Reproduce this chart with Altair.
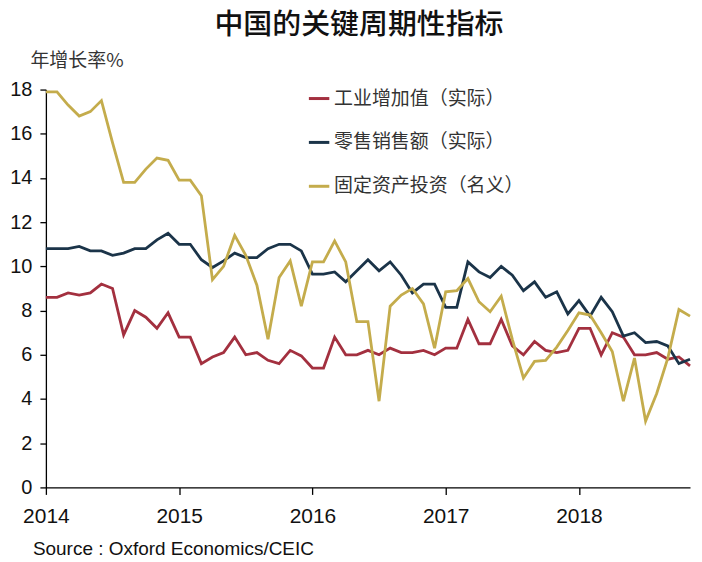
import altair as alt
import pandas as pd

title_text = "中国的关键周期性指标"
y_title = "年增长率%"
source_text = "Source : Oxford Economics/CEIC"
series_names = ["工业增加值（实际）", "零售销售额（实际）", "固定资产投资（名义）"]
series_colors = ["#A3303F", "#1B3449", "#C4AC4C"]
year_ticks = [2014, 2015, 2016, 2017, 2018]
y_ticks = [0, 2, 4, 6, 8, 10, 12, 14, 16, 18]

# monthly, Jan 2014 .. Nov 2018
months = pd.date_range("2014-01-01", periods=59, freq="MS")

industrial = [8.6, 8.6, 8.8, 8.7, 8.8, 9.2, 9.0, 6.9, 8.0, 7.7, 7.2, 7.9,
              6.8, 6.8, 5.6, 5.9, 6.1, 6.8, 6.0, 6.1, 5.75, 5.6, 6.2, 5.95,
              5.4, 5.4, 6.8, 6.0, 6.0, 6.2, 6.0, 6.3, 6.1, 6.1, 6.2, 6.0,
              6.3, 6.3, 7.6, 6.5, 6.5, 7.6, 6.4, 6.0, 6.6, 6.2, 6.1, 6.2,
              7.2, 7.2, 6.0, 7.0, 6.8, 6.0, 6.0, 6.1, 5.8, 5.9, 5.5]

retail = [10.8, 10.8, 10.8, 10.9, 10.7, 10.7, 10.5, 10.6, 10.8, 10.8, 11.2, 11.5,
          11.0, 11.0, 10.3, 9.95, 10.25, 10.6, 10.4, 10.4, 10.8, 11.0, 11.0, 10.7,
          9.65, 9.65, 9.75, 9.3, 9.8, 10.3, 9.8, 10.2, 9.6, 8.8, 9.2, 9.2,
          8.15, 8.15, 10.2, 9.75, 9.5, 10.0, 9.6, 8.9, 9.3, 8.6, 8.85, 7.85,
          8.45, 7.75, 8.6, 7.95, 6.85, 7.0, 6.55, 6.6, 6.4, 5.6, 5.8]

fixed_inv = [17.9, 17.9, 17.3, 16.8, 17.0, 17.5, 15.6, 13.8, 13.8, 14.4, 14.9, 14.8,
             13.9, 13.9, 13.2, 9.4, 10.0, 11.4, 10.5, 9.15, 6.7, 9.5, 10.25, 8.2,
             10.2, 10.2, 11.15, 10.2, 7.5, 7.5, 3.9, 8.2, 8.7, 9.0, 8.3, 6.3,
             8.85, 8.9, 9.45, 8.4, 7.95, 8.65, 6.7, 4.95, 5.7, 5.75, 6.35, 7.1,
             7.9, 7.8, 7.0, 6.15, 3.9, 5.85, 3.0, 4.25, 5.85, 8.05, 7.75]

rows = []
for name, vals in zip(series_names, [industrial, retail, fixed_inv]):
    for d, v in zip(months, vals):
        rows.append({"t": d.year + (d.month - 1) / 12.0, "series": name, "value": v})
df = pd.DataFrame(rows)

x_end = months[-1].year + (months[-1].month - 1) / 12.0

lines = alt.Chart(df).mark_line(strokeWidth=2.8).encode(
    x=alt.X("t:Q",
            scale=alt.Scale(domain=[2014, x_end], nice=False, zero=False),
            axis=alt.Axis(values=year_ticks, format="d", title=None, grid=False,
                          labelFont="Liberation Sans", labelFontSize=21,
                          labelColor="#111", labelPadding=11, tickSize=7,
                          labelFlush=False, labelOverlap=False)),
    y=alt.Y("value:Q",
            scale=alt.Scale(domain=[0, 18], nice=False),
            axis=alt.Axis(values=y_ticks, title=y_title, grid=False,
                          labelFont="Liberation Sans", labelFontSize=20,
                          labelColor="#111", labelPadding=8, tickSize=6,
                          titleAngle=0, titleAlign="left", titleBaseline="middle",
                          titleX=-16, titleY=-29, titleFont="Noto Sans CJK SC",
                          titleFontSize=19, titleFontWeight="normal", titleColor="#333")),
    color=alt.Color("series:N",
                    scale=alt.Scale(domain=series_names, range=series_colors),
                    legend=alt.Legend(orient="none", legendX=262, legendY=-3, title=None,
                                      symbolType="stroke", symbolSize=420,
                                      symbolStrokeWidth=3, labelFont="Noto Sans CJK SC",
                                      labelFontSize=19, labelColor="#333", labelLimit=0,
                                      rowPadding=22, labelOffset=3)),
)

src = alt.Chart(pd.DataFrame({"label": [source_text]})).mark_text(
    align="left", baseline="middle", fontSize=19, font="Liberation Sans", color="#111"
).encode(x=alt.value(-13), y=alt.value(461), text="label:N")

ttl = alt.Chart(pd.DataFrame({"label": [title_text]})).mark_text(
    align="center", baseline="middle", fontSize=29, font="Noto Sans CJK SC",
    fontWeight=500, color="#111"
).encode(x=alt.value(314), y=alt.value(-65), text="label:N")

chart = alt.layer(lines, src, ttl).properties(
    width=646, height=399,
    autosize="none",
    padding={"left": 38, "top": 81, "right": 4, "bottom": 72},
).configure_view(stroke=None).configure_axis(
    domainColor="#000", tickColor="#000", domainWidth=1.3, tickWidth=1.3
)

chart.save("out.html", embed_options={"renderer": "svg", "actions": False})
